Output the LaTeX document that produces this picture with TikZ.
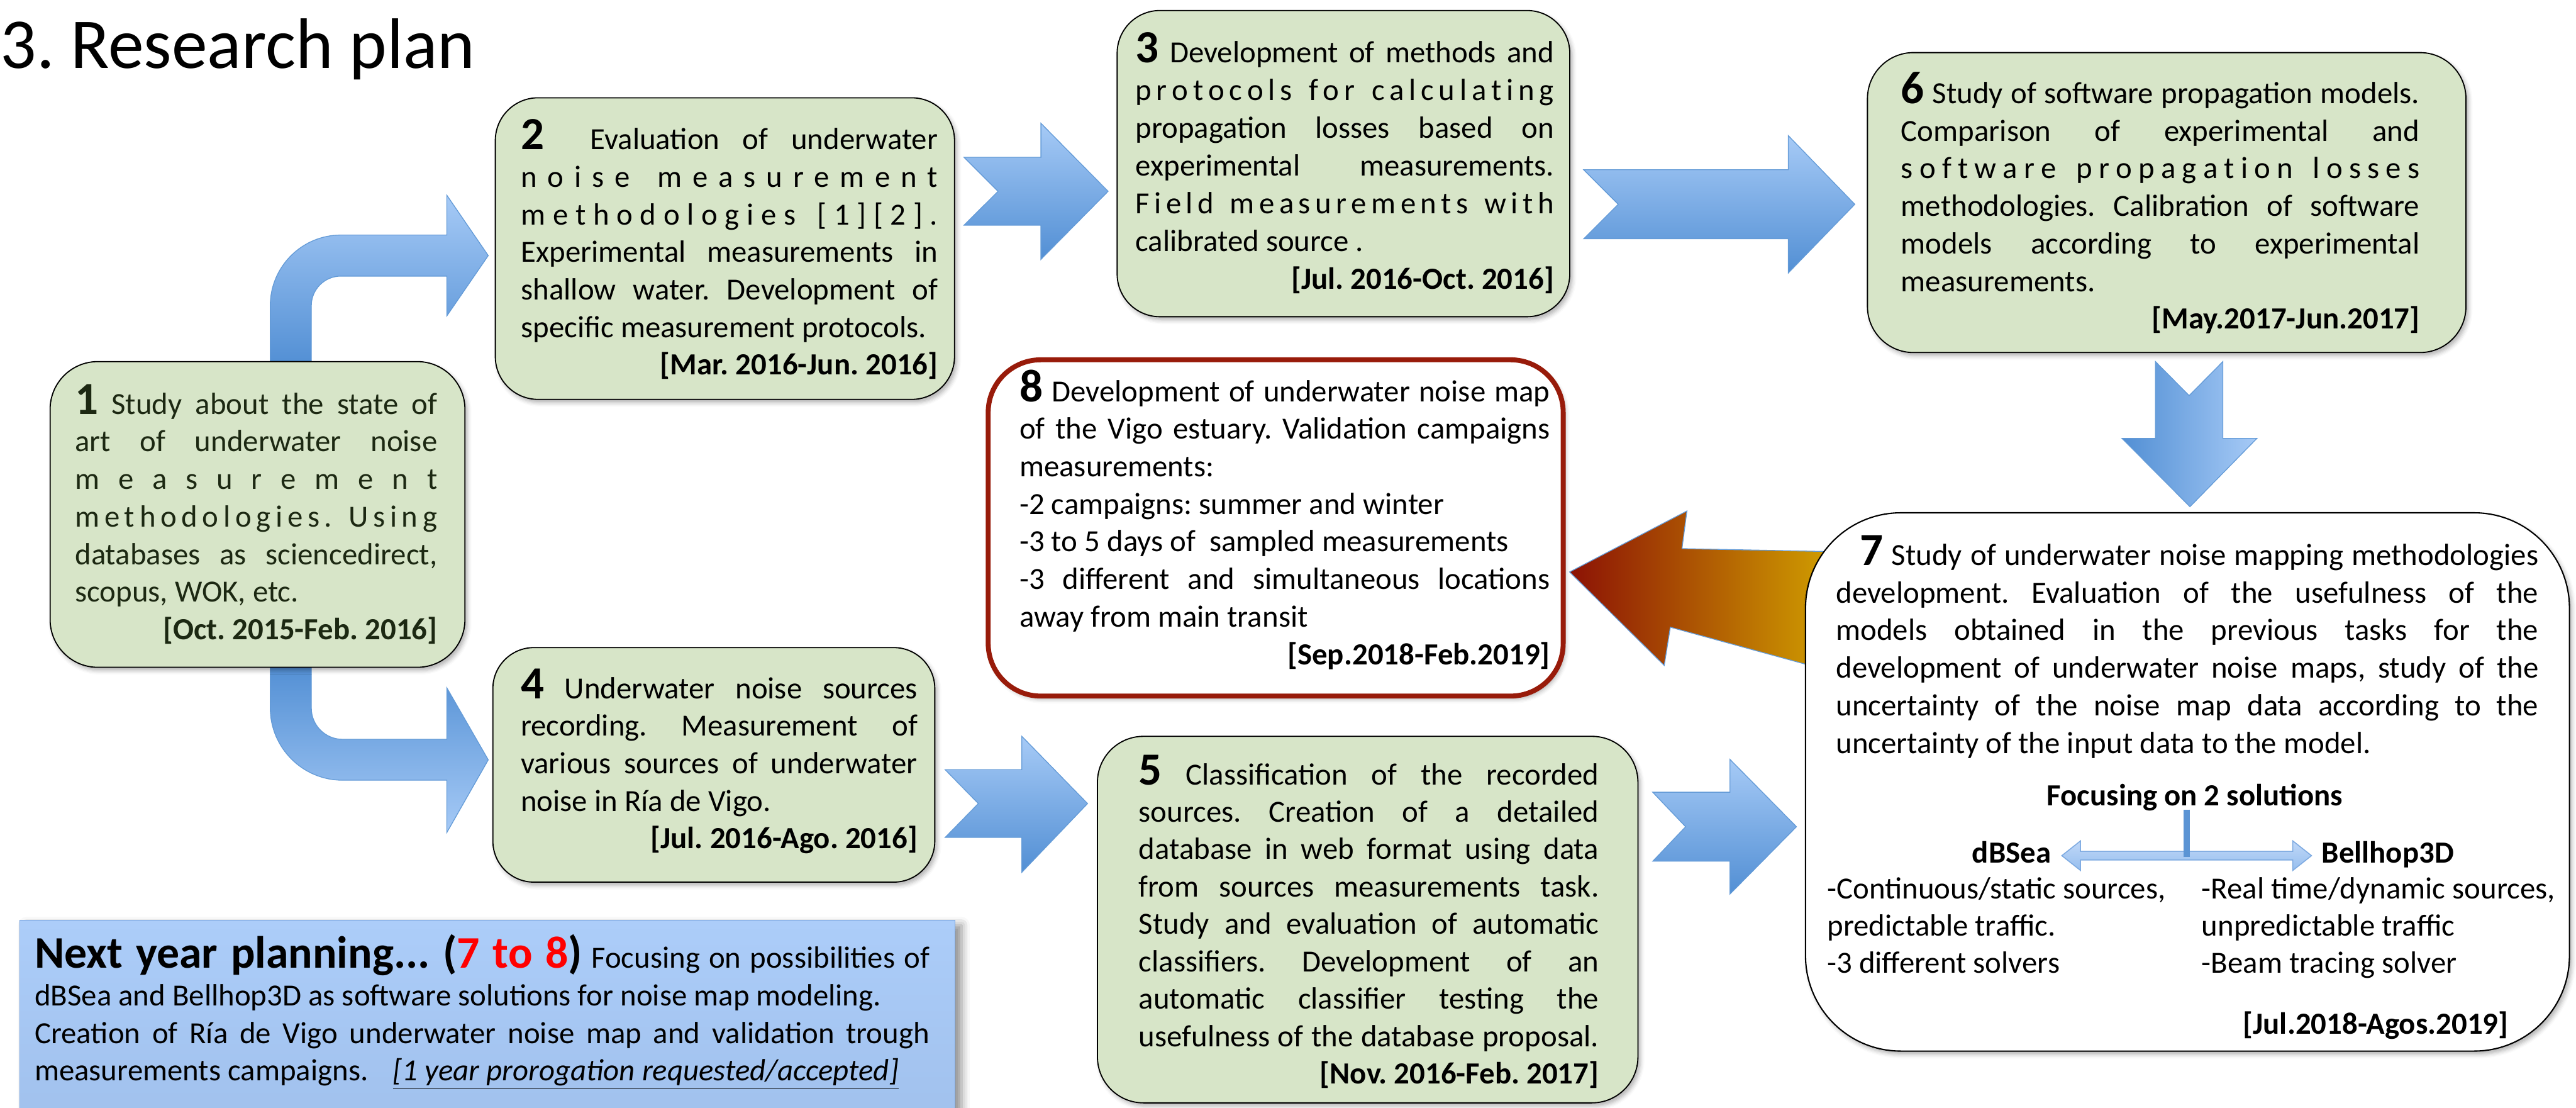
\documentclass[tikz,border=0pt]{standalone}
\usepackage{fontspec}
\setmainfont{Carlito}
\usetikzlibrary{shadows.blur}
\definecolor{boxgreen}{RGB}{215,229,200}
\definecolor{boxonetext}{RGB}{28,40,18}
\definecolor{redborder}{RGB}{152,27,10}
\definecolor{blueL}{RGB}{166,202,246}
\definecolor{blueD}{RGB}{82,143,212}
\definecolor{arrline}{RGB}{100,155,215}
\definecolor{darkred}{RGB}{140,18,5}
\definecolor{gold}{RGB}{215,172,0}
\definecolor{nyTop}{RGB}{172,205,249}
\definecolor{nyBot}{RGB}{160,192,236}
\definecolor{nyLine}{RGB}{120,164,222}
\definecolor{stemblue}{RGB}{91,148,212}
\definecolor{dLight}{RGB}{192,216,248}
\definecolor{dDark}{RGB}{150,190,238}
\definecolor{dLine}{RGB}{125,170,225}
\newcommand\body{\fontsize{18.7}{22.85}\selectfont\frenchspacing}
\newcommand\JLine[1]{\makebox[\linewidth][s]{#1}\par}
\newcommand\LLine[1]{\makebox[\linewidth][l]{#1}\par}
\newcommand\DLine[1]{\makebox[\linewidth][r]{\bfseries #1}\par}
\newcommand\Num[1]{{\bfseries\fontsize{28}{28}\selectfont #1}}
\def\spreadit#1{\spreadfirst#1\relax}
\def\spreadfirst#1{#1\spreadaux}
\def\spreadaux#1{\ifx#1\relax\else\hspace{0pt plus 1fil}#1\expandafter\spreadaux\fi}
\begin{document}
\frenchspacing
\begin{tikzpicture}[x=1pt,y=-1pt,
  gbox/.style={draw=black,line width=0.7pt,fill=boxgreen,inner sep=0pt,
    blur shadow={shadow xshift=1.5pt,shadow yshift=-2pt,shadow blur radius=2.5pt,shadow opacity=30}},
  txt/.style={anchor=base west,inner sep=0pt},
  barrow/.style={draw=arrline,line width=0.5pt},
  hgrad/.style={top color=blueL,bottom color=blueD},
]
\useasboundingbox (0,0) rectangle (1568,674);

% title
\node[txt,font=\fontsize{43.5}{43.5}\selectfont] (title) at (0,41.7) {3. Research plan};

% ---------- block arrows (behind boxes) ----------
% 1 -> 2 bent arrow
\draw[barrow,top color=blueL,bottom color=blueD] (164.5,222) -- (164.5,186)
  .. controls (164.5,162.25) and (183.75,143) .. (207.5,143) -- (272,143) -- (272,118.8)
  -- (297.2,155.5) -- (272,192.2) -- (272,168) -- (207.5,168)
  .. controls (197.56,168) and (189.5,176.06) .. (189.5,186) -- (189.5,222) -- cycle;
% 1 -> 4 bent arrow
\draw[barrow,top color=blueD,bottom color=blueL] (164.5,404) -- (164.5,430.7)
  .. controls (164.5,455) and (184.2,474.7) .. (208.5,474.7) -- (272,474.7) -- (272,506.5)
  -- (297.2,462.3) -- (272,418.5) -- (272,449.8) -- (208.5,449.8)
  .. controls (198,449.8) and (189.5,441.3) .. (189.5,430.8) -- (189.5,404) -- cycle;
% 2 -> 3
\draw[barrow,hgrad] (586.8,95.7) -- (633.6,95.7) -- (633.6,75) -- (674.5,116.4) -- (633.6,157.8)
  -- (633.6,137) -- (586.8,137) -- (607.5,116.4) -- cycle;
% 3 -> 6
\draw[barrow,hgrad] (964,103.3) -- (1088.5,103.3) -- (1088.5,82.5) -- (1129,124.3) -- (1088.5,166.1)
  -- (1088.5,145.3) -- (964,145.3) -- (985,124.3) -- cycle;
% 4 -> 5
\draw[barrow,hgrad] (575.3,468.3) -- (622,468.3) -- (622,448) -- (662,488.9) -- (622,530.7)
  -- (622,509.5) -- (575.3,509.5) -- (595.5,488.9) -- cycle;
% 5 -> 7
\draw[barrow,hgrad] (1006,482) -- (1053,482) -- (1053,462) -- (1093.5,503) -- (1053,544)
  -- (1053,524) -- (1006,524) -- (1026,503) -- cycle;
% 6 -> 7 (down)
\draw[barrow,left color=blueD,right color=blueL] (1312,220) -- (1332.5,240.7) -- (1353,220)
  -- (1353,266.7) -- (1373.8,266.7) -- (1333,308.3) -- (1291.6,266.7) -- (1312,266.7) -- cycle;
% 7 -> 8 (orange)
\draw[barrow,left color=darkred,right color=gold] (955.4,348) -- (1026.8,310.9) -- (1023.8,333.8)
  -- (1130,335.9) -- (1130,412.6) -- (1016.7,381.6) -- (1013,404.9) -- cycle;

% ---------- boxes ----------
\node[gbox,minimum width=252.5pt,minimum height=186pt,rounded corners=29pt] (b1) at (156.75,313) {};
\node[gbox,minimum width=279.5pt,minimum height=183.5pt,rounded corners=26pt] (b2) at (441.25,151.25) {};
\node[gbox,minimum width=275.5pt,minimum height=186.3pt,rounded corners=26pt] (b3) at (817.75,99.55) {};
\node[gbox,minimum width=364.3pt,minimum height=182.5pt,rounded corners=28pt] (b6) at (1318.85,123.25) {};
\node[gbox,minimum width=269pt,minimum height=142.7pt,rounded corners=25pt] (b4) at (434.5,465.35) {};
\node[gbox,minimum width=329pt,minimum height=223pt,rounded corners=28pt] (b5) at (832.5,559.5) {};
\node[gbox,fill=white,line width=0.8pt,minimum width=465pt,minimum height=327.5pt,rounded corners=58pt] (b7) at (1331.5,475.75) {};
\node[gbox,fill=white,draw=redborder,line width=3pt,minimum width=350pt,minimum height=204.6pt,rounded corners=32pt] (b8) at (776.5,321.2) {};
\node[draw=nyLine,line width=0.6pt,top color=nyTop,bottom color=nyBot,inner sep=0pt,anchor=north west,
  minimum width=569.3pt,minimum height=130pt,
  blur shadow={shadow xshift=4pt,shadow yshift=-3pt,shadow blur radius=5pt,shadow opacity=45}] (ny) at (11.7,559.6) {};

% ---------- texts ----------
\node[txt,text=boxonetext] (t1) at (45.5,252) {\parbox[t]{220.5pt}{\body
\JLine{\Num{1} Study about the state of}
\JLine{art of underwater noise}
\JLine{\spreadit{measurement}}
\JLine{\spreadit{methodologies.~Using}}
\JLine{databases as sciencedirect,}
\LLine{scopus, WOK, etc.}
\DLine{[Oct. 2015-Feb. 2016]}}};

\node[txt] (t2) at (317,91) {\parbox[t]{253.7pt}{\body
\JLine{\Num{2}\ \ Evaluation of underwater}
\JLine{\spreadit{noise~measurement}}
\JLine{\spreadit{methodologies~[1][2].}}
\JLine{Experimental measurements in}
\JLine{shallow water. Development of}
\LLine{specific measurement protocols.}
\DLine{[Mar. 2016-Jun. 2016]}}};

\node[txt] (t3) at (691,38) {\parbox[t]{254.7pt}{\body\fontsize{18.7}{23}\selectfont
\JLine{\Num{3} Development of methods and}
\JLine{\spreadit{protocols~for~calculating}}
\JLine{propagation losses based on}
\JLine{experimental measurements.}
\JLine{\spreadit{Field~measurements~with}}
\LLine{calibrated source .}
\DLine{[Jul. 2016-Oct. 2016]}}};

\node[txt] (t6) at (1157,63) {\parbox[t]{315.6pt}{\body
\JLine{\Num{6} Study of software propagation models.}
\JLine{Comparison of experimental and}
\JLine{\spreadit{software~propagation~losses}}
\JLine{methodologies. Calibration of software}
\JLine{models according to experimental}
\LLine{measurements.}
\DLine{[May.2017-Jun.2017]}}};

\node[txt] (t4) at (316.8,425) {\parbox[t]{241.5pt}{\body
\JLine{\Num{4} Underwater noise sources}
\JLine{recording. Measurement of}
\JLine{various sources of underwater}
\LLine{noise in Ría de Vigo.}
\DLine{[Jul. 2016-Ago. 2016]}}};

\node[txt] (t5) at (693,477.4) {\parbox[t]{280pt}{\body\fontsize{18.7}{22.75}\selectfont
\JLine{\Num{5} Classification of the recorded}
\JLine{sources. Creation of a detailed}
\JLine{database in web format using data}
\JLine{from sources measurements task.}
\JLine{Study and evaluation of automatic}
\JLine{classifiers. Development of an}
\JLine{automatic classifier testing the}
\JLine{usefulness of the database proposal.}
\DLine{[Nov. 2016-Feb. 2017]}}};

\node[txt] (t7) at (1117.4,344) {\parbox[t]{427.6pt}{\body
\JLine{\hspace*{14.6pt}\Num{7} Study of underwater noise mapping methodologies}
\JLine{development. Evaluation of the usefulness of the}
\JLine{models obtained in the previous tasks for the}
\JLine{development of underwater noise maps, study of the}
\JLine{uncertainty of the noise map data according to the}
\LLine{uncertainty of the input data to the model.}}};

\node[txt] (t8) at (620.4,244.3) {\parbox[t]{322.9pt}{\body
\JLine{\Num{8} Development of underwater noise map}
\JLine{of the Vigo estuary. Validation campaigns}
\LLine{measurements:}
\LLine{-2 campaigns: summer and winter}
\LLine{-3 to 5 days of\ \ sampled measurements}
\JLine{-3 different and simultaneous locations}
\LLine{away from main transit}
\DLine{[Sep.2018-Feb.2019]}}};

\node[txt] (tny) at (20.9,589) {\parbox[t]{544.8pt}{\body
\JLine{{\bfseries\fontsize{27.5}{27.5}\selectfont Next year planning... (\textcolor{red}{7 to 8})} Focusing on possibilities of}
\LLine{dBSea and Bellhop3D as software solutions for noise map modeling.}
\JLine{Creation of Ría de Vigo underwater noise map and validation trough}
\LLine{\makebox[218.1pt][l]{measurements campaigns.}\underline{\itshape [1 year prorogation requested/accepted]}}}};

% ---------- box 7 lower part ----------
\node[anchor=base,inner sep=0pt,font=\body\bfseries] (foc) at (1336,490) {Focusing on 2 solutions};
\coordinate (stemtop) at (1331,492.5);
\coordinate (stembot) at (1331,521.5);
\draw[draw=dLine,line width=0.6pt,top color=dLight,bottom color=dDark]
  (1255,520.6) -- (1266.4,511.6) -- (1266.4,518) -- (1395.6,518) -- (1395.6,511.6) -- (1407,520.6)
  -- (1395.6,529.6) -- (1395.6,523.2) -- (1266.4,523.2) -- (1266.4,529.6) -- cycle;
\draw[stemblue,line width=3.5pt] (stemtop) -- (stembot);
\node[anchor=base east,inner sep=0pt,font=\body\bfseries] (dbsea) at (1248.6,525) {dBSea};
\node[anchor=base west,inner sep=0pt,font=\body\bfseries] (bell) at (1413,525) {Bellhop3D};
\node[txt] (lcol) at (1112,547) {\parbox[t]{225pt}{\body\fontsize{18.7}{22.6}\selectfont
\LLine{-Continuous/static sources,}
\LLine{predictable traffic.}
\LLine{-3 different solvers}}};
\node[txt] (rcol) at (1340,547) {\parbox[t]{222pt}{\body\fontsize{18.7}{22.6}\selectfont
\LLine{-Real time/dynamic sources,}
\LLine{unpredictable traffic}
\LLine{-Beam tracing solver}}};
\node[anchor=base east,inner sep=0pt,font=\body\bfseries] (d7) at (1527,629) {[Jul.2018-Agos.2019]};
\end{tikzpicture}
\end{document}
